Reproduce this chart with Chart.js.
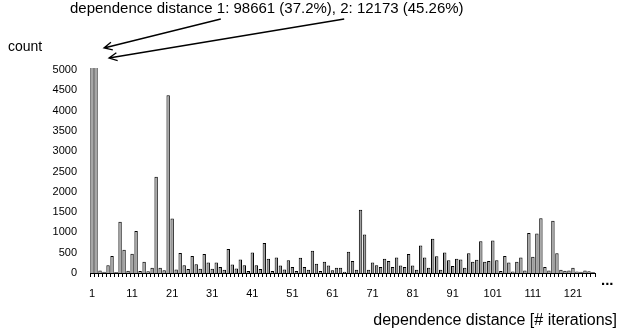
<!DOCTYPE html>
<html>
<head>
<meta charset="utf-8">
<script src="https://cdn.jsdelivr.net/npm/chart.js@4"></script>
<style>
    html, body { margin: 0; padding: 0; background: #fff; }
</style>
</head>
<body>
<canvas id="chart" width="620" height="334"></canvas>
<script>
// dependence distance (# iterations), one bar per distance
const distances = [
    1, 2, 3, 4, 5, 6, 7, 8, 9, 10, 11, 12, 13, 14, 15, 16, 17, 18, 19, 20,
    21, 22, 23, 24, 25, 26, 27, 28, 29, 30, 31, 32, 33, 34, 35, 36, 37, 38, 39, 40,
    41, 42, 43, 44, 45, 46, 47, 48, 49, 50, 51, 52, 53, 54, 55, 56, 57, 58, 59, 60,
    61, 62, 63, 64, 65, 66, 67, 68, 69, 70, 71, 72, 73, 74, 75, 76, 77, 78, 79, 80,
    81, 82, 83, 84, 85, 86, 87, 88, 89, 90, 91, 92, 93, 94, 95, 96, 97, 98, 99, 100,
    101, 102, 103, 104, 105, 106, 107, 108, 109, 110, 111, 112, 113, 114, 115, 116, 117, 118, 119, 120,
    121, 122, 123, 124, 125, 126
];

// counts; the first two run far off the top of the axis
const counts = [
    98661, 12173, 60, 30, 190, 420, 25, 1265, 570, 55, 475, 1035, 50, 280, 45, 130, 2370, 130, 65, 4380,
    1345, 85, 490, 190, 100, 420, 215, 105, 470, 260, 105, 258, 150, 80, 590, 210, 110, 335, 190, 50,
    505, 190, 100, 740, 350, 50, 380, 185, 85, 315, 150, 50, 375, 145, 80, 550, 230, 50, 280, 185,
    65, 130, 130, 28, 525, 295, 80, 1560, 948, 80, 258, 190, 150, 352, 298, 150, 380, 185, 150, 470,
    185, 80, 675, 380, 130, 842, 415, 80, 505, 315, 175, 350, 330, 130, 485, 280, 325, 785, 280, 298,
    800, 315, 50, 420, 258, 40, 280, 380, 60, 988, 400, 970, 1350, 150, 60, 1290, 485, 78, 55, 62,
    128, 40, 28, 60, 45, 25
];

const labelledDistances = [1, 11, 21, 31, 41, 51, 61, 71, 81, 91, 101, 111, 121];
const yTicks = [0, 500, 1000, 1500, 2000, 2500, 3000, 3500, 4000, 4500, 5000];

const noteText = 'dependence distance 1: 98661 (37.2%), 2: 12173 (45.26%)';
const yTitle = 'count';
const xTitle = 'dependence distance [# iterations]';

const FONT = '"Liberation Sans", Arial, sans-serif';

function drawArrow(ctx, x0, y0, x1, y1) {
    const ang = Math.atan2(y1 - y0, x1 - x0);
    const len = 9;
    const spread = 0.45;
    ctx.beginPath();
    ctx.moveTo(x0, y0);
    ctx.lineTo(x1, y1);
    ctx.moveTo(x1 - len * Math.cos(ang - spread), y1 - len * Math.sin(ang - spread));
    ctx.lineTo(x1, y1);
    ctx.lineTo(x1 - len * Math.cos(ang + spread), y1 - len * Math.sin(ang + spread));
    ctx.stroke();
}

const notesPlugin = {
    id: 'notes',
    afterDraw(chart) {
        const { ctx, scales: { x, y } } = chart;
        ctx.save();
        ctx.fillStyle = '#000';
        ctx.strokeStyle = '#000';
        ctx.lineWidth = 1.3;
        ctx.textBaseline = 'middle';

        ctx.font = `14px ${FONT}`;
        ctx.textAlign = 'left';
        ctx.fillText(yTitle, 8, 47);

        ctx.font = `16px ${FONT}`;
        ctx.textAlign = 'right';
        ctx.fillText(xTitle, 617, 321);

        ctx.font = `bold 15px ${FONT}`;
        ctx.textAlign = 'left';
        ctx.fillText('...', 601, 281);

        ctx.font = `15px ${FONT}`;
        const noteX = 70;
        ctx.fillText(noteText, noteX, 9);
        const start1 = noteX + ctx.measureText(noteText.slice(0, noteText.indexOf('1:'))).width + 4;
        const start2 = noteX + ctx.measureText(noteText.slice(0, noteText.indexOf('2:'))).width + 4;
        const top = y.getPixelForValue(5000);
        drawArrow(ctx, start1, 19, x.getPixelForValue(0) + 12, top - 22);
        drawArrow(ctx, start2, 19, x.getPixelForValue(1) + 13, top - 12);
        ctx.restore();
    }
};

new Chart(document.getElementById('chart'), {
    type: 'bar',
    data: {
        labels: distances,
        datasets: [{
            data: counts,
            backgroundColor: '#a0a0a0',
            borderColor: '#000',
            borderWidth: 1,
            borderSkipped: 'bottom',
            categoryPercentage: 1,
            barPercentage: 0.85,
            clip: { top: 2, left: 0, right: 0, bottom: 0 }
        }]
    },
    options: {
        responsive: false,
        animation: false,
        layout: { padding: { top: 70, right: 25, left: 0, bottom: 0 } },
        plugins: {
            legend: { display: false },
            tooltip: { enabled: false }
        },
        scales: {
            x: {
                offset: true,
                afterFit: s => { s.height = 61; },
                border: { display: true, color: '#000', width: 1 },
                grid: {
                    display: true,
                    offset: true,
                    drawOnChartArea: false,
                    drawTicks: true,
                    tickLength: 4,
                    color: '#000'
                },
                ticks: {
                    autoSkip: false,
                    maxRotation: 0,
                    padding: 10,
                    color: '#000',
                    font: { family: FONT, size: 11 },
                    callback: (v, i) => labelledDistances.includes(distances[i]) ? String(distances[i]) : ''
                }
            },
            y: {
                min: 0,
                max: 5000,
                afterFit: s => { s.width = 90; },
                afterBuildTicks: s => { s.ticks = yTicks.map(v => ({ value: v })); },
                border: { display: false },
                grid: { display: false },
                ticks: {
                    padding: 5,
                    color: '#000',
                    font: { family: FONT, size: 11 },
                    callback: v => String(v)
                }
            }
        }
    },
    plugins: [notesPlugin]
});
</script>
</body>
</html>
